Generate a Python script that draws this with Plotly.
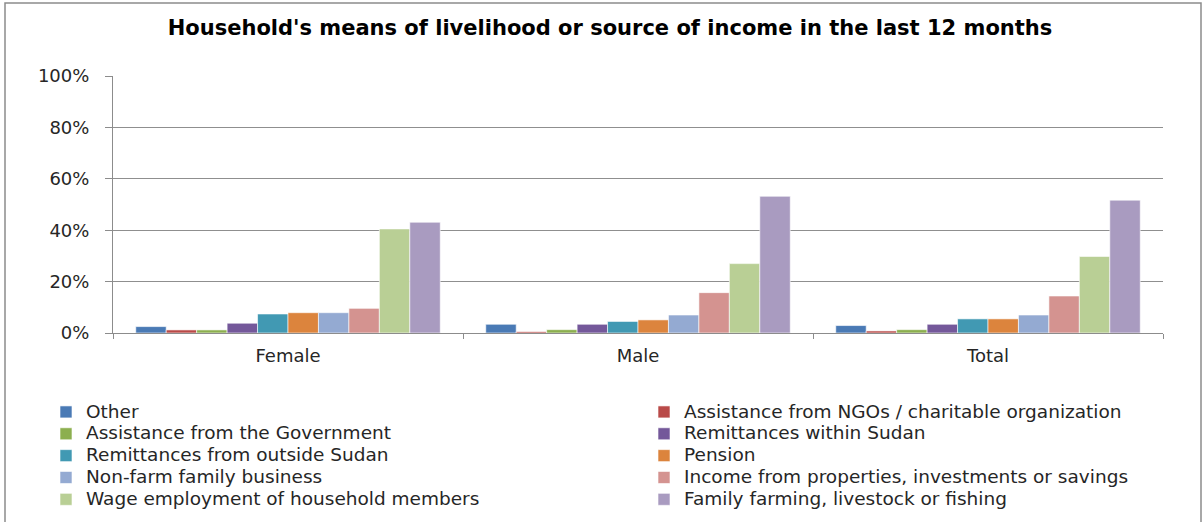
import plotly.graph_objects as go

categories = ["Female", "Male", "Total"]
series_names = [
    "Other",
    "Assistance from NGOs / charitable organization",
    "Assistance from the Government",
    "Remittances within Sudan",
    "Remittances from outside Sudan",
    "Pension",
    "Non-farm family business",
    "Income from properties, investments or savings",
    "Wage employment of household members",
    "Family farming, livestock or fishing",
]
other = [2.5, 3.4, 2.9]
ngo = [1.2, 0.5, 0.8]
government = [1.2, 1.3, 1.3]
remit_within = [3.8, 3.4, 3.4]
remit_outside = [7.4, 4.5, 5.5]
pension = [7.9, 5.1, 5.5]
non_farm = [7.9, 7.0, 7.0]
income_props = [9.6, 15.7, 14.4]
wage = [40.5, 27.0, 29.8]
farming = [43.1, 53.2, 51.7]

series_values = [other, ngo, government, remit_within, remit_outside,
                 pension, non_farm, income_props, wage, farming]
colors = ["#4a7ab5", "#b94a48", "#8caf4f", "#74589a", "#4199b3",
          "#dc843d", "#94aad2", "#d49390", "#b9cf95", "#a99bc0"]

W, H = 1203, 522
L, R, T, B = 113, 40, 76, 189
pw, ph = W - L - R, H - T - B

def px_x(x):
    return (x - L) / pw

def px_y(y):
    return (H - B - y) / ph

fig = go.Figure()
for i, (name, vals, col) in enumerate(zip(series_names, series_values, colors)):
    fig.add_trace(go.Bar(
        name='<span style="font-size:18.5px">' + name + '</span>',
        x=categories, y=[v / 100 for v in vals],
        marker=dict(color=col, line=dict(color="white", width=0.6)),
        legend="legend" if i % 2 == 0 else "legend2",
    ))

LEG_FONT = dict(family="DejaVu Sans", size=14.5, color="#262626")
legend_common = dict(orientation="v", xanchor="left", yanchor="top", y=px_y(396),
                     font=LEG_FONT, itemwidth=30, tracegroupgap=0,
                     bgcolor="rgba(0,0,0,0)", traceorder="normal")

fig.update_layout(
    width=W, height=H,
    margin=dict(l=L, r=R, t=T, b=B, autoexpand=False),
    paper_bgcolor="white", plot_bgcolor="white",
    barmode="group", bargap=0.13, bargroupgap=0,
    font=dict(family="DejaVu Sans", size=15, color="#262626"),
    title=dict(text="<b>Household's means of livelihood or source of income in the last 12 months</b>",
               x=610 / W, xanchor="center", y=1 - 28 / H, yanchor="middle",
               font=dict(family="DejaVu Sans", size=21, color="#000")),
    showlegend=True,
    legend=dict(x=px_x(46), **legend_common),
    legend2=dict(x=px_x(644), **legend_common),
    shapes=[dict(type="rect", xref="paper", yref="paper",
                 x0=px_x(5), x1=px_x(1201), y0=px_y(523), y1=px_y(3),
                 line=dict(color="#8c8c8c", width=1.5), layer="below")],
)
fig.update_yaxes(range=[0, 1], dtick=0.2, tickformat=".0%", showgrid=True,
                 gridcolor="#8f8f8f", gridwidth=1, showline=True, linecolor="#8c8c8c",
                 ticks="outside", ticklen=7, tickcolor="#8c8c8c", ticklabelstandoff=12,
                 tickfont=dict(family="DejaVu Sans", size=18, color="#262626"), zeroline=False)
fig.update_xaxes(showline=True, linecolor="#8c8c8c", ticks="outside", ticklen=5,
                 tickcolor="#8c8c8c", tickson="boundaries", ticklabelstandoff=6,
                 tickfont=dict(family="DejaVu Sans", size=18, color="#262626"))

fig.write_html("out.html", config={"displayModeBar": False},
               post_script="document.body.style.margin='0';")
